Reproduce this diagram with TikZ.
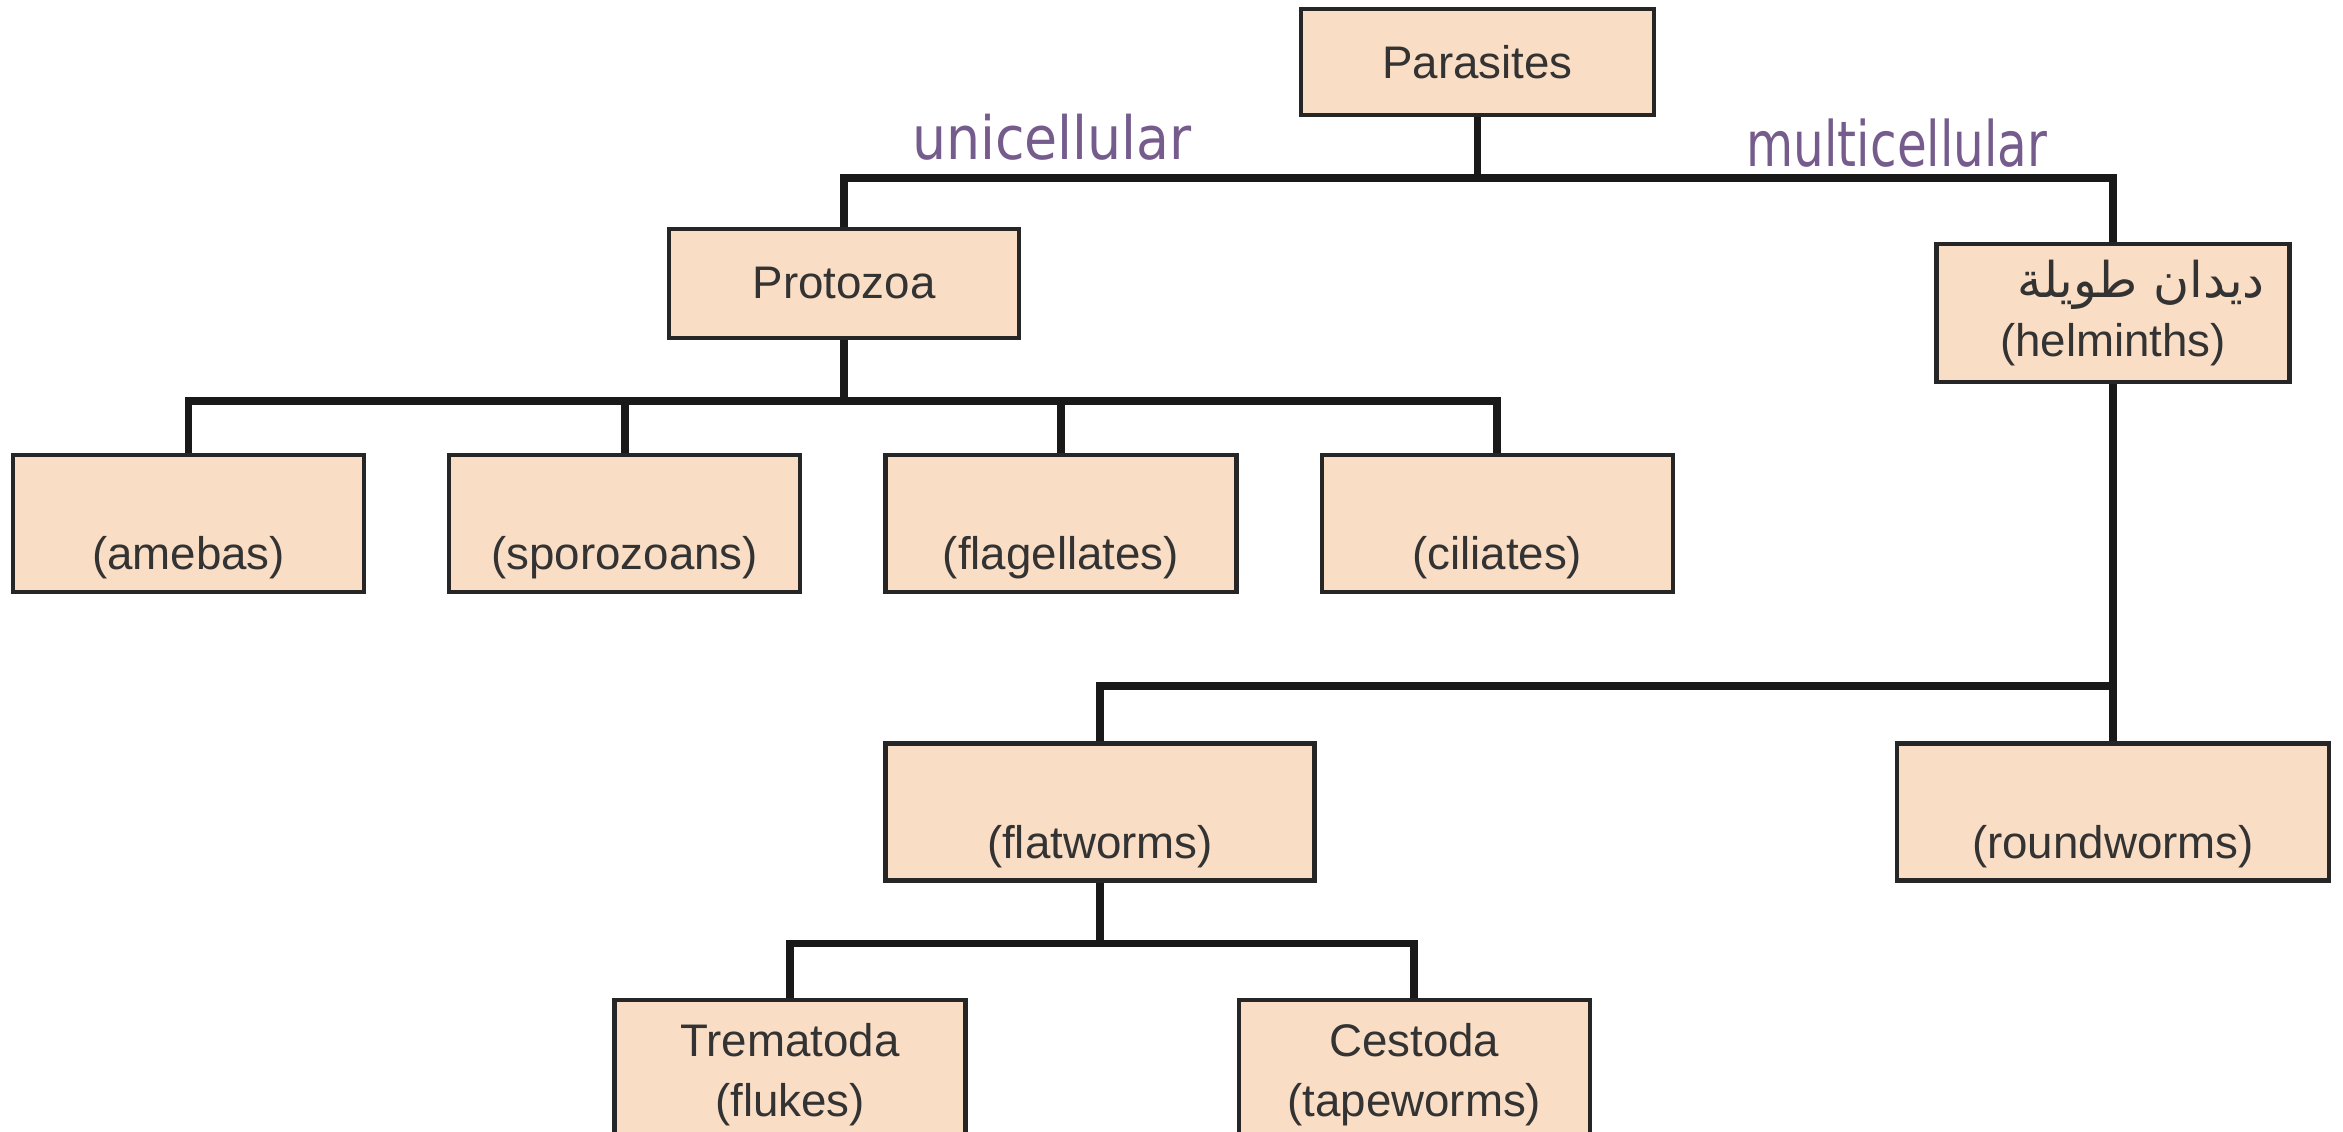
\documentclass[tikz,border=0pt]{standalone}
\usepackage{fontspec}
\setmainfont{Liberation Sans}
\newfontfamily\arabicfont[Script=Arabic]{DejaVu Sans}
\newfontfamily\handfont[FakeStretch=0.9]{DejaVu Sans}
\TeXXeTstate=1
\usepackage{tikz}
\usetikzlibrary{positioning}
\definecolor{boxfill}{RGB}{250,221,197}
\definecolor{pen}{RGB}{118,92,140}

\begin{document}
\begin{tikzpicture}[every node/.style={align=center,text=black!80,font=\fontsize{13}{17}\selectfont},
	box/.style={draw=black!85,fill=boxfill,line width=1.2pt,minimum height=1.37cm,minimum width=3.51cm,inner sep=0pt},
	link/.style={line width=2.2pt,draw=black!90},
	hand/.style={text=pen,font=\handfont\fontsize{17}{17}\selectfont,anchor=base}]

					\useasboundingbox (0,0) rectangle (23.43,-11.32);
					\clip (0,0) rectangle (23.43,-11.32);

					\node[box, minimum height=1.06cm, minimum width=3.53cm] (par) at (14.775,-0.62) {Parasites};
					\node[box, minimum height=1.09cm, minimum width=3.50cm] (proto) at (8.44,-2.835) {Protozoa};
					\node[box, minimum height=1.38cm, minimum width=3.53cm] (helm) at (21.13,-3.13) {
						\hspace*{0.56cm}{\arabicfont\fontsize{14}{17}\selectfont\beginR ديدان طويلة\endR}\\
						(helminths)
					};

					\node[box] (ameba) at (1.885,-5.235) {\strut\\(amebas)};
					\node[box, right=0.81cm of ameba] (sporo) {\strut\\(sporozoans)};
					\node[box, right=0.81cm of sporo] (flag) {\strut\\(flagellates)};
					\node[box, right=0.81cm of flag] (cil) {\strut\\(ciliates)};

					\node[box, minimum width=4.29cm] (flat) at (11.0,-8.12) {\strut\\(flatworms)};
					\node[box, minimum width=4.32cm] (round) at (21.13,-8.12) {\strut\\(roundworms)};

					\node[box, minimum height=1.5cm] (trem) at (7.9,-10.75) {Trematoda\\(flukes)};
					\node[box, minimum height=1.5cm, right=2.69cm of trem] (cest) {Cestoda\\(tapeworms)};

					\node[hand] (uni) at (10.52,-1.60) {unicellular};
					\node[hand] (multi) at (18.97,-1.67) {\scalebox{0.9}[1.05]{multicellular}};

					\draw[link] (par.south) -- ++(0,-0.61) -| (proto.north);
					\draw[link] (par.south) -- ++(0,-0.61) -| (helm.north);
					\foreach \k in {ameba,sporo,flag,cil}
						\draw[link] (proto.south) -- ++(0,-0.61) -| (\k.north);
					\draw[link] (helm.south) -- ++(0,-3.02) -| (flat.north);
					\draw[link] (helm.south) -- ++(0,-3.02) -| (round.north);
					\foreach \k in {trem,cest}
						\draw[link] (flat.south) -- ++(0,-0.61) -| (\k.north);

\end{tikzpicture}
\end{document}
